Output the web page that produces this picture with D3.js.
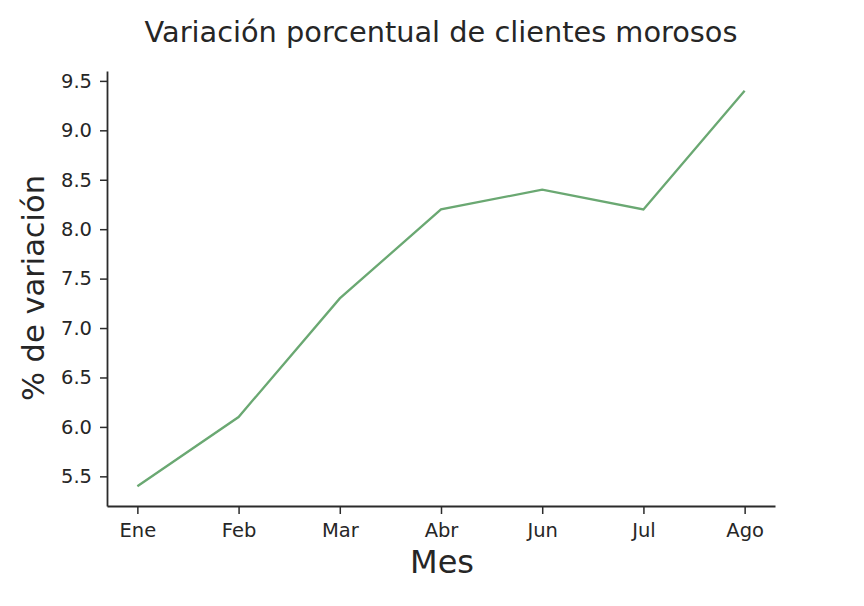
<!DOCTYPE html>
<html>
<head>
<meta charset="utf-8">
<script src="https://cdn.jsdelivr.net/npm/d3@7"></script>
<style>
  body { margin: 0; background: #fff; }
  svg text { font-family: "DejaVu Sans", sans-serif; fill: #262626; }
</style>
</head>
<body>
<div id="chart"></div>
<script>
// data
const months = ["Ene", "Feb", "Mar", "Abr", "Jun", "Jul", "Ago"];
const variation = [5.4, 6.1, 7.3, 8.2, 8.4, 8.2, 9.4];
const yTicks = [5.5, 6.0, 6.5, 7.0, 7.5, 8.0, 8.5, 9.0, 9.5];

const W = 864, H = 606;
const margin = { top: 71, right: 89, bottom: 100, left: 107 };
const width = W - margin.left - margin.right;
const height = H - margin.top - margin.bottom;

const svg = d3.select("#chart").append("svg")
    .attr("width", W)
    .attr("height", H);

const g = svg.append("g")
    .attr("transform", `translate(${margin.left},${margin.top})`);

// matplotlib style 5% margins
const x = d3.scaleLinear()
    .domain([-0.3, months.length - 1 + 0.3])
    .range([0, width]);

const y = d3.scaleLinear()
    .domain([5.2, 9.6])
    .range([height, 0]);

// X axis
const xAxis = g.append("g")
    .attr("transform", `translate(0,${height})`)
    .call(d3.axisBottom(x)
        .tickValues(d3.range(months.length))
        .tickFormat(i => months[i])
        .tickSize(8)
        .tickPadding(9)
        .tickSizeOuter(0));

// Y axis
const yAxis = g.append("g")
    .call(d3.axisLeft(y)
        .tickValues(yTicks)
        .tickFormat(d3.format(".1f"))
        .tickSize(7)
        .tickPadding(8)
        .tickSizeOuter(0));

[xAxis, yAxis].forEach(a => {
    a.selectAll("path.domain").attr("stroke", "#2b2b2b").attr("stroke-width", 1.8);
    a.selectAll(".tick line").attr("stroke", "#2b2b2b").attr("stroke-width", 1.5);
    a.selectAll(".tick text")
        .style("font-family", "'DejaVu Sans', sans-serif")
        .style("font-size", "19.5px")
        .attr("fill", "#2b2b2b");
});

// line
const line = d3.line()
    .x((d, i) => x(i))
    .y(d => y(d));

g.append("path")
    .datum(variation)
    .attr("fill", "none")
    .attr("stroke", "#6aa872")
    .attr("stroke-width", 2.3)
    .attr("d", line);

// title
svg.append("text")
    .attr("x", 441)
    .attr("y", 42)
    .attr("text-anchor", "middle")
    .style("font-size", "28.8px")
    .attr("fill", "#000")
    .text("Variación porcentual de clientes morosos");

// axis labels
svg.append("text")
    .attr("x", 442)
    .attr("y", 573)
    .attr("text-anchor", "middle")
    .style("font-size", "32px")
    .attr("fill", "#000")
    .text("Mes");

svg.append("text")
    .attr("transform", "translate(44,288) rotate(-90)")
    .attr("text-anchor", "middle")
    .style("font-size", "30.5px")
    .attr("fill", "#000")
    .text("% de variación");
</script>
</body>
</html>
